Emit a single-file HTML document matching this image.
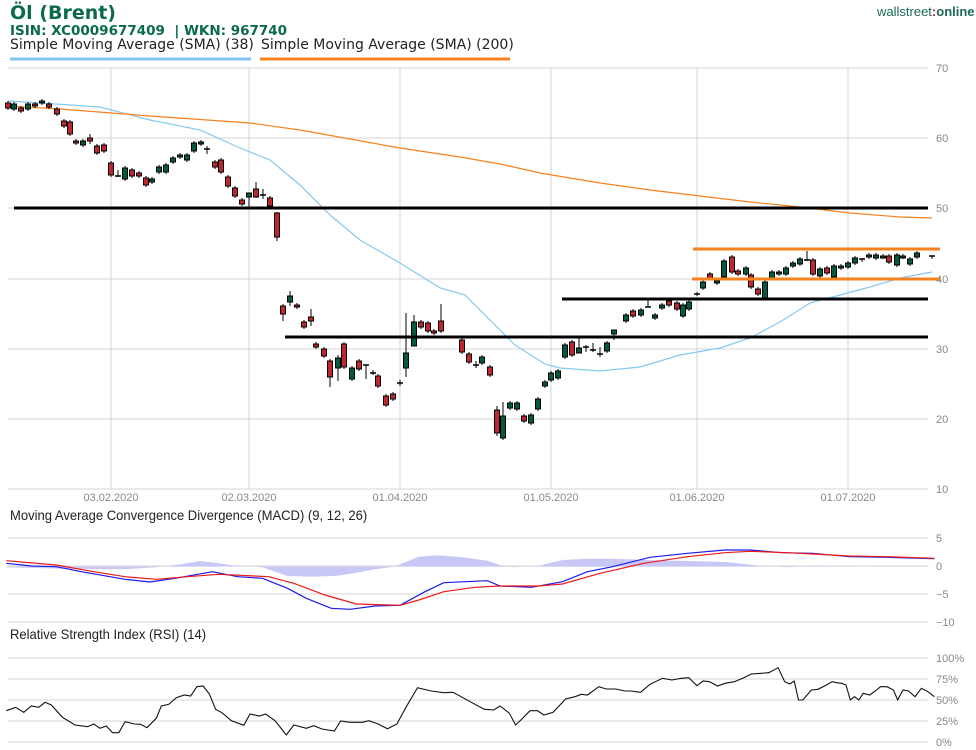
<!DOCTYPE html>
<html><head><meta charset="utf-8"><style>
body{margin:0;background:#fff;width:976px;height:750px;overflow:hidden;position:relative;font-family:"Liberation Sans",sans-serif}
.t{position:absolute;white-space:nowrap}
</style></head><body>
<div class="t" style="left:10px;top:2px;font:bold 19px 'DejaVu Sans',sans-serif;color:#0b6a4c">Öl (Brent)</div>
<div class="t" style="left:10px;top:23px;font:bold 13.5px 'DejaVu Sans',sans-serif;color:#0b6a4c">ISIN: XC0009677409 &nbsp;| WKN: 967740</div>
<div class="t" style="left:10px;top:37px;font:14px 'DejaVu Sans',sans-serif;color:#222">Simple Moving Average (SMA) (38)</div>
<div class="t" style="left:261px;top:37px;font:14px 'DejaVu Sans',sans-serif;color:#222">Simple Moving Average (SMA) (200)</div>
<div class="t" style="left:877px;top:4px;font:13px 'Liberation Sans',sans-serif;color:#1a6a55">wallstreet<b style="color:#c0202a">:</b><b>online</b></div>
<div class="t" style="left:10px;top:507px;font:14px 'Liberation Sans',sans-serif;color:#222;transform:scaleX(0.93);transform-origin:0 0">Moving Average Convergence Divergence (MACD) (9, 12, 26)</div>
<div class="t" style="left:10px;top:626px;font:14px 'Liberation Sans',sans-serif;color:#222;transform:scaleX(0.93);transform-origin:0 0">Relative Strength Index (RSI) (14)</div>
<svg id="s" width="976" height="750" style="position:absolute;left:0;top:0" xmlns="http://www.w3.org/2000/svg"></svg>
<script>
var s=document.getElementById('s'),h='';
function L(x1,y1,x2,y2,c,w){h+='<line x1="'+x1+'" y1="'+y1+'" x2="'+x2+'" y2="'+y2+'" stroke="'+c+'" stroke-width="'+w+'"/>';}
function T(x,y,t,a){h+='<text x="'+x+'" y="'+y+'" font-family="Liberation Sans,sans-serif" font-size="11" fill="#888" text-anchor="'+(a||'start')+'">'+t+'</text>';}
function P(pts,c,w,sx,sy,ox,oy){var d='';pts.forEach(function(p,i){d+=(i?'L':'M')+(p[0]*sx+ox).toFixed(1)+' '+(p[1]*sy+oy).toFixed(1);});h+='<path d="'+d+'" fill="none" stroke="'+c+'" stroke-width="'+w+'"/>';}
L(10,59,251,59,'#7fc6ee',3);L(260,59,510,59,'#f5821f',3);
// main grid
[68,138,208,279,349,419,489].forEach(function(y,i){L(8,y,928,y,'#d4d4d4',1);T(936,y+4,[70,60,50,40,30,20,10][i]);});
var dx=[111,249,400,551,697,848],dl=['03.02.2020','02.03.2020','01.04.2020','01.05.2020','01.06.2020','01.07.2020'];
dx.forEach(function(x,i){L(x,68,x,489,'#d4d4d4',1);T(x,501,dl[i],'middle');});
// SMA lines
P([[8,101],[40,103],[100,107],[150,120],[200,130],[240,148],[270,160],[300,185],[330,215],[360,240],[400,263],[440,288],[465,295],[490,320],[515,345],[545,364],[560,368],[600,371],[640,367],[680,355],[720,348],[750,338],[780,322],[810,303],[840,295],[870,287],[900,278],[932,272]],'#86c9ef',1.2,1,1,0,0);
P([[8,106],[60,109],[150,116],[250,123],[300,130],[400,148],[460,157],[500,164],[540,173],[600,183],[650,190],[700,196],[750,202],[800,207],[850,213],[900,217],[932,218]],'#f5821f',1.2,1,1,0,0);
// candles [x,top,bottom,color,wickTop,wickBot]
var C=[[8,103,108,'r',101,110],[14,104,109,'g'],[21,108,111,'r'],[28,104,109,'g'],[35,104,106,'r'],[42,101,103,'g'],[49,104,107,'r'],[57,109,114,'r'],[64,121,126,'r'],[70,122,134,'r'],[76,141,143,'r'],[83,141,145,'g'],[90,138,141,'r',134,144],[97,146,153,'r'],[104,145,151,'r'],[111,163,175,'r',161,177],[118,176,176,'d',170,177],[125,168,179,'g'],[132,170,176,'r'],[139,173,176,'r'],[146,178,185,'r'],[152,179,182,'g'],[159,167,172,'g'],[166,165,172,'g'],[173,158,162,'g'],[180,155,157,'g'],[187,155,160,'g'],[194,143,151,'g'],[201,142,144,'g'],[207,149,149,'d',146,154],[215,162,167,'r'],[221,160,172,'r'],[228,177,186,'r'],[235,188,196,'r'],[242,200,204,'r'],[249,193,197,'g',193,207],[256,189,197,'r',182,198],[263,195,195,'d',189,199],[270,198,206,'r'],[277,213,237,'r',212,241],
[283,306,314,'r',304,321],[290,296,302,'g',291,306],[297,305,307,'r'],[304,322,327,'r'],[311,317,321,'r',309,326],[316,344,347,'r'],[324,349,356,'r'],[330,361,377,'r',359,387],[338,358,368,'g',355,381],[344,344,367,'r'],[352,368,379,'g'],[359,361,369,'r'],[366,365,365,'d',365,379],[373,373,373,'d',370,375],[378,376,386,'r'],[386,396,405,'r'],[393,394,399,'r'],[400,383,383,'d',380,386],[406,353,368,'g',313,377],[414,322,346,'g',315,346],[421,322,327,'r'],[428,323,331,'r'],[434,331,333,'r'],[441,321,331,'r',304,333],[462,340,352,'r'],[469,354,362,'r'],[476,365,365,'d',361,368],[482,357,363,'g'],[490,367,375,'r'],[497,410,433,'r',406,436],[503,416,438,'g',402,440],[510,403,408,'g'],[517,403,409,'g'],[524,416,421,'r'],[531,415,423,'g'],[538,399,409,'g'],[545,382,386,'g'],[551,373,380,'g'],[558,371,378,'g'],[565,345,357,'g'],[572,342,355,'r'],[579,348,353,'g',338,353],[586,347,347,'d',345,352],[593,350,350,'d',343,352],[600,354,354,'d',347,357],[607,343,351,'g'],[614,330,334,'g',330,340],[626,315,321,'g'],[633,311,316,'r'],[641,310,315,'g'],[648,307,307,'d',300,307],[655,315,318,'g'],[662,305,308,'g'],[669,301,305,'r'],[677,303,309,'r'],[683,305,316,'g'],[689,302,309,'g'],[697,294,294,'d',292,296],[703,282,288,'g'],[710,274,278,'r'],[717,281,283,'g'],[724,261,277,'g'],[732,257,272,'r'],[738,271,274,'r'],[746,268,274,'g'],[751,275,287,'r'],[758,289,294,'r'],[765,282,298,'g'],[772,272,278,'g'],[779,272,274,'g'],[786,268,274,'g'],[793,263,266,'g'],[800,259,264,'g'],[807,260,260,'d',251,261],[813,260,274,'r'],[820,269,276,'g'],[827,268,273,'r'],[834,266,277,'g'],[841,266,268,'g'],[848,263,267,'g'],[855,258,263,'g'],[862,259,259,'d',258,262],[869,255,257,'g'],[876,255,258,'g'],[883,256,257,'g'],[889,256,262,'r'],[897,255,265,'g'],[903,256,257,'g'],[910,259,264,'g'],[917,253,257,'g'],[932,256,256,'d',256,259]];
C.forEach(function(c){var wt=c[4]||c[1]-2,wb=c[5]||c[2]+2;L(c[0],wt,c[0],wb,'#000',1);
if(c[3]=='d'){L(c[0]-3,c[1],c[0]+3,c[1],'#000',1.5);}else{h+='<rect x="'+(c[0]-2.5)+'" y="'+c[1]+'" width="5" height="'+Math.max(2,c[2]-c[1])+'" fill="'+(c[3]=='r'?'#c0262e':'#045a3c')+'" stroke="#000" stroke-width="1"/>';}});
// S/R lines
L(14,208,928,208,'#000',3);L(285,337,928,337,'#000',3);L(562,299,928,299,'#000',3);
L(693,249,940,249,'#f5821f',3);L(692,279,940,279,'#f5821f',3);
// MACD
[538,566,594,622].forEach(function(y,i){L(8,y,928,y,'#d4d4d4',1);T(936,y+4,['5','0','−5','−10'][i]);});
var sx=1/1.6,sy=1/3,oy=480;
var hist=[[10,260],[10,262],[100,266],[200,268],[250,262],[290,253],[320,243],[350,250],[380,258],[420,262],[440,275],[460,288],[500,290],[540,287],[570,278],[600,268],[630,260],[650,245],[670,230],[700,226],[740,232],[780,242],[800,255],[820,262],[860,258],[900,240],[940,236],[980,236],[1040,240],[1080,242],[1120,244],[1160,246],[1180,250],[1220,258],[1260,262],[1300,258],[1400,260],[1495,260]];
var d='M'+(10*sx)+' '+(260*sy+oy);hist.forEach(function(p){d+='L'+(p[0]*sx).toFixed(1)+' '+(p[1]*sy+oy).toFixed(1);});d+='L'+(1495*sx)+' '+(260*sy+oy)+'Z';
h+='<path d="'+d+'" fill="#c8c8f6"/>';
P([[10,250],[50,258],[90,260],[130,275],[200,298],[240,306],[280,295],[340,275],[380,290],[420,295],[460,325],[490,355],[530,385],[560,388],[600,378],[640,376],[680,335],[710,308],[780,302],[800,318],[850,322],[900,305],[940,275],[980,260],[1040,232],[1100,220],[1160,210],[1200,210],[1250,218],[1300,220],[1360,230],[1420,232],[1495,236]],'#1a1aee',1.2,sx,sy,0,oy);
P([[10,242],[90,255],[150,275],[200,290],[250,298],[300,290],[350,283],[430,290],[470,310],[520,345],[570,372],[640,376],[670,360],[710,335],[760,322],[800,318],[860,318],[900,312],[960,280],[1030,250],[1100,230],[1160,218],[1200,214],[1260,218],[1300,222],[1360,228],[1420,230],[1495,235]],'#ee1a1a',1.2,sx,sy,0,oy);
// RSI
[658,679,700,721,742].forEach(function(y,i){L(8,y,928,y,'#d4d4d4',1);T(936,y+4,['100%','75%','50%','25%','0%'][i]);});
var R=[[10,272],[25,262],[38,277],[50,258],[62,262],[72,247],[82,255],[100,292],[120,315],[140,320],[150,312],[160,325],[170,318],[180,338],[190,338],[200,305],[215,312],[225,313],[235,323],[250,295],[258,258],[270,253],[282,233],[295,225],[305,228],[315,200],[325,198],[335,222],[345,268],[355,278],[370,302],[390,316],[400,282],[415,288],[425,282],[440,302],[458,345],[470,315],[490,325],[502,317],[515,327],[535,333],[545,303],[560,307],[580,307],[590,302],[605,312],[620,326],[635,312],[650,260],[668,203],[690,213],[710,218],[725,217],[760,253],[775,268],[790,270],[800,258],[815,280],[825,315],[835,297],[848,272],[860,272],[870,285],[885,277],[905,237],[920,230],[930,223],[940,225],[958,200],[970,207],[985,207],[1000,213],[1010,213],[1025,217],[1040,193],[1060,175],[1075,180],[1090,175],[1102,173],[1115,197],[1125,183],[1135,185],[1148,198],[1160,190],[1175,185],[1190,173],[1202,162],[1218,160],[1230,158],[1245,143],[1258,185],[1270,192],[1280,183],[1290,240],[1300,240],[1320,210],[1335,208],[1355,195],[1368,185],[1378,188],[1390,190],[1400,195],[1410,240],[1420,230],[1430,240],[1440,220],[1455,225],[1468,213],[1480,200],[1495,200],[1510,210],[1520,240],[1532,210],[1545,213],[1560,230],[1575,205],[1590,215],[1605,230]];
R=R.map(function(p){return [p[0]>1250?1250+(p[0]-1250)*245/355:p[0],p[1]];});
P(R,'#111',1.1,sx,sy,0,620);
s.innerHTML=h;
</script>
</body></html>
